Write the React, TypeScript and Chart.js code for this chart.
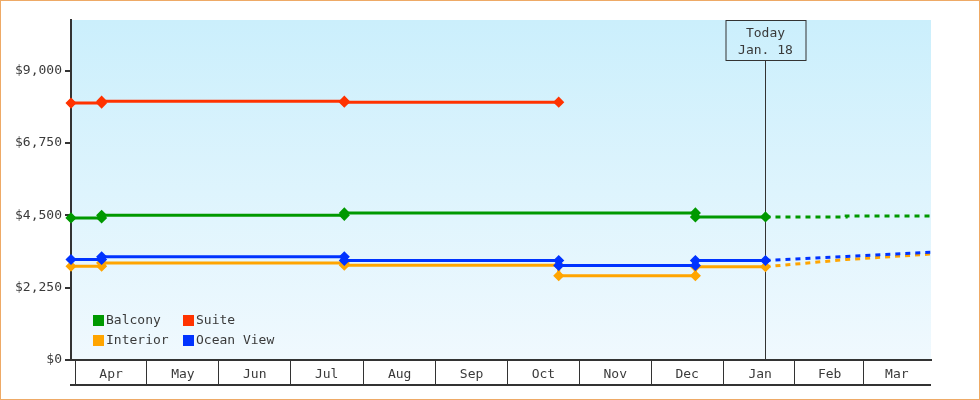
import React, { useEffect, useRef } from "react";
import { Chart, registerables } from "chart.js";

Chart.register(...registerables);

// ---------- data ----------
const RANGE_START = "2012-03-30";
const RANGE_END = "2013-03-30";
const TODAY = "2013-01-18T18:00Z";
const todayLines = ["Today", "Jan. 18"];

const monthLabels = ["Apr", "May", "Jun", "Jul", "Aug", "Sep", "Oct", "Nov", "Dec", "Jan", "Feb", "Mar"];
const monthStarts = [
  "2012-04-01", "2012-05-01", "2012-06-01", "2012-07-01", "2012-08-01", "2012-09-01",
  "2012-10-01", "2012-11-01", "2012-12-01", "2013-01-01", "2013-02-01", "2013-03-01",
];

const yTicks = [0, 2250, 4500, 6750, 9000];
const yMax = 10575;

const balconyDates = ["2012-03-30", "2012-04-12", "2012-04-12", "2012-07-24", "2012-07-24", "2012-12-20", "2012-12-20", TODAY];
const balconyValues = [4420, 4420, 4500, 4500, 4575, 4575, 4450, 4450];
const balconyForecastDates = [TODAY, "2013-02-22", "2013-02-22", RANGE_END];
const balconyForecastValues = [4450, 4450, 4480, 4480];

const suiteDates = ["2012-03-30", "2012-04-12", "2012-04-12", "2012-07-24", "2012-07-24", "2012-10-23"];
const suiteValues = [7990, 7990, 8050, 8050, 8020, 8020];

const cabinDates = [
  "2012-03-30", "2012-04-12", "2012-04-12", "2012-07-24", "2012-07-24",
  "2012-10-23", "2012-10-23", "2012-12-20", "2012-12-20", TODAY,
];
const oceanViewValues = [3125, 3125, 3210, 3210, 3095, 3095, 2940, 2940, 3095, 3095];
const interiorValues = [2915, 2915, 3020, 3020, 2950, 2950, 2620, 2620, 2900, 2900];

const forecastDates = [TODAY, "2013-02-22", RANGE_END];
const oceanViewForecast = [3095, 3220, 3350];
const interiorForecast = [2900, 3125, 3295];

// ---------- styles ----------
const GREEN = "#009900";
const RED = "#ff3300";
const ORANGE = "#ffa500";
const BLUE = "#0033ff";
const INK = "#333333";
const TEXT = "#3a3a3a";
const FONT = "'DejaVu Sans Mono', 'Liberation Mono', monospace";

const DAY = 86400000;
const startMs = Date.parse(RANGE_START + "T00:00:00Z");
const toDay = (s: string) => {
  const iso = s.length === 10 ? s + "T00:00:00Z" : s;
  return (Date.parse(iso) - startMs) / DAY;
};
const totalDays = toDay(RANGE_END);
const monthMids = monthStarts.map((m, i) => {
  const a = Math.max(toDay(m), 0);
  const b = i < monthStarts.length - 1 ? toDay(monthStarts[i + 1]) : totalDays;
  return (a + b) / 2;
});
const pts = (dates: string[], vals: number[]) => dates.map((d, i) => ({ x: toDay(d), y: vals[i] }));
const fmtMoney = (v: number) => "$" + String(Math.round(v)).replace(/\B(?=(\d{3})+(?!\d))/g, ",");

const solid = (label: string, color: string, data: any[], order: number) => ({
  label,
  data,
  borderColor: color,
  backgroundColor: color,
  borderWidth: 3,
  pointStyle: "rectRot",
  pointRadius: 4.5,
  pointBorderWidth: 1.5,
  pointBorderColor: color,
  pointBackgroundColor: color,
  tension: 0,
  clip: 8,
  order,
});
const dashed = (color: string, data: any[], order: number) => ({
  label: "",
  legend: false,
  data,
  borderColor: color,
  backgroundColor: color,
  borderWidth: 3,
  borderDash: [5, 5],
  pointRadius: 0,
  tension: 0,
  order,
});

const decorPlugin = {
  id: "decor",
  beforeDraw(chart: any) {
    const { ctx, chartArea: a, width, height } = chart;
    ctx.save();
    ctx.fillStyle = "#ffffff";
    ctx.fillRect(0, 0, width, height);
    const g = ctx.createLinearGradient(0, a.top, 0, a.bottom);
    g.addColorStop(0, "#cbeffc");
    g.addColorStop(1, "#f0f9fe");
    ctx.fillStyle = g;
    ctx.fillRect(a.left, a.top, a.right - a.left, a.bottom - a.top);
    ctx.restore();
  },
  beforeDatasetsDraw(chart: any) {
    const { ctx, chartArea: a, scales } = chart;
    const x = Math.round(scales.x.getPixelForValue(toDay(TODAY))) + 0.5;
    const bw = 80, bh = 40;
    ctx.save();
    ctx.strokeStyle = INK;
    ctx.lineWidth = 1;
    ctx.beginPath();
    ctx.moveTo(x, a.top + bh);
    ctx.lineTo(x, a.bottom);
    ctx.stroke();
    ctx.strokeRect(Math.round(x - bw / 2), a.top + 0.5, bw, bh);
    ctx.fillStyle = TEXT;
    ctx.font = `13px ${FONT}`;
    ctx.textAlign = "center";
    ctx.textBaseline = "middle";
    ctx.fillText(todayLines[0], x, a.top + 13.5);
    ctx.fillText(todayLines[1], x, a.top + 31);
    ctx.restore();
  },
  afterDraw(chart: any) {
    const { ctx, chartArea: a, width, height } = chart;
    ctx.save();
    // bottom line of month band
    ctx.strokeStyle = INK;
    ctx.lineWidth = 2;
    ctx.beginPath();
    ctx.moveTo(a.left - 1, a.bottom + 25);
    ctx.lineTo(a.right, a.bottom + 25);
    ctx.stroke();
    // legend
    const items = chart.data.datasets.filter((d: any) => d.legend !== false);
    ctx.font = `13px ${FONT}`;
    ctx.textAlign = "left";
    ctx.textBaseline = "middle";
    items.forEach((d: any, i: number) => {
      const col = i % 2, row = Math.floor(i / 2);
      const sx = a.left + 22 + col * 90;
      const sy = a.bottom - 45 + row * 20;
      ctx.fillStyle = d.borderColor;
      ctx.fillRect(sx, sy, 11, 11);
      ctx.fillStyle = TEXT;
      ctx.fillText(d.label, sx + 13, sy + 6);
    });
    // outer frame
    ctx.strokeStyle = "#eeaa66";
    ctx.lineWidth = 1;
    ctx.strokeRect(0.5, 0.5, width - 1, height - 1);
    ctx.restore();
  },
};

export default function App() {
  const ref = useRef<HTMLCanvasElement>(null);
  useEffect(() => {
    document.body.style.margin = "0";
    const chart = new Chart(ref.current as HTMLCanvasElement, {
      type: "line",
      data: {
        datasets: [
          solid("Balcony", GREEN, pts(balconyDates, balconyValues), 0),
          solid("Suite", RED, pts(suiteDates, suiteValues), 0),
          solid("Interior", ORANGE, pts(cabinDates, interiorValues), 2),
          solid("Ocean View", BLUE, pts(cabinDates, oceanViewValues), 1),
          dashed(GREEN, pts(balconyForecastDates, balconyForecastValues), 1),
          dashed(ORANGE, pts(forecastDates, interiorForecast), 2),
          dashed(BLUE, pts(forecastDates, oceanViewForecast), 1),
        ] as any,
      },
      options: {
        animation: false,
        responsive: false,
        events: [],
        layout: { padding: { left: 0, top: 20, right: 49, bottom: 15 } },
        plugins: { legend: { display: false }, tooltip: { enabled: false } },
        scales: {
          x: {
            type: "linear",
            min: 0,
            max: totalDays,
            afterBuildTicks: (s: any) => {
              s.ticks = monthMids.map((v) => ({ value: v }));
            },
            afterFit: (s: any) => {
              s.height = 25;
            },
            grid: {
              offset: true,
              drawOnChartArea: false,
              drawTicks: true,
              tickLength: 25,
              lineWidth: 1,
              color: (c: any) => (c.index < monthLabels.length ? INK : "rgba(0,0,0,0)"),
            },
            border: { display: true, color: INK, width: 2 },
            ticks: {
              autoSkip: false,
              maxRotation: 0,
              padding: -18,
              color: TEXT,
              font: { size: 13, family: FONT },
              callback: (_v: any, i: number) => monthLabels[i],
            },
          },
          y: {
            min: 0,
            max: yMax,
            afterBuildTicks: (s: any) => {
              s.ticks = yTicks.map((v) => ({ value: v }));
            },
            afterFit: (s: any) => {
              s.width = 71;
            },
            grid: { drawOnChartArea: false, drawTicks: true, tickLength: 6, color: INK, lineWidth: 2 },
            border: { display: true, color: INK, width: 2 },
            ticks: {
              padding: 3,
              color: TEXT,
              font: { size: 13, family: FONT },
              callback: (v: any) => fmtMoney(Number(v)),
            },
          },
        },
      } as any,
      plugins: [decorPlugin],
    });
    return () => chart.destroy();
  }, []);
  return <canvas ref={ref} width={980} height={400} style={{ display: "block", width: 980, height: 400 }} />;
}
